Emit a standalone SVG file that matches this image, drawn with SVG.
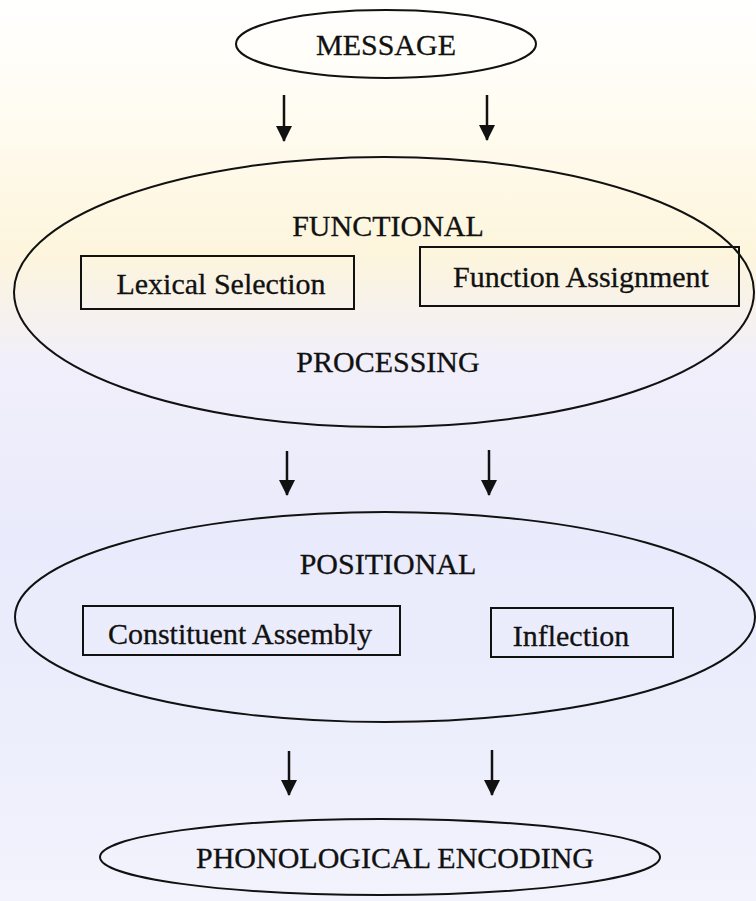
<svg xmlns="http://www.w3.org/2000/svg" width="756" height="901" viewBox="0 0 756 901">
<defs>
<linearGradient id="bg" x1="0" y1="0" x2="0" y2="1">
<stop offset="0" stop-color="#ffffff"/>
<stop offset="0.12" stop-color="#fffcf2"/>
<stop offset="0.28" stop-color="#fdf5dc"/>
<stop offset="0.40" stop-color="#f1effa"/>
<stop offset="0.60" stop-color="#e9eafb"/>
<stop offset="0.85" stop-color="#eeeffc"/>
<stop offset="1" stop-color="#f3f3fd"/>
</linearGradient>
<marker id="ah" markerUnits="userSpaceOnUse" markerWidth="16" markerHeight="16" viewBox="0 0 16 16" refX="15" refY="8" orient="auto">
<path d="M0,0 L16,8 L0,16 Z" fill="#111"/>
</marker>
<style>
.shape{fill:none;stroke:#111;stroke-width:2}
.box{fill:none;stroke:#111;stroke-width:2}
.t{font-family:"Liberation Serif","Times New Roman",serif;font-size:30px;fill:#111;text-anchor:middle;stroke:#111;stroke-width:0.3}
.arr{stroke:#111;stroke-width:2.5;fill:none}
</style>
</defs>
<rect x="0" y="0" width="756" height="901" fill="url(#bg)"/>
<g id="message">
<ellipse class="shape" cx="386" cy="44" rx="150" ry="34"/>
<text class="t" x="386" y="55">MESSAGE</text>
</g>
<g id="functional-processing">
<ellipse class="shape" cx="384" cy="292" rx="370" ry="135"/>
<text class="t" x="388" y="236">FUNCTIONAL</text>
<text class="t" x="388" y="372">PROCESSING</text>
</g>
<g id="lexical-selection">
<rect class="box" x="81" y="256" width="273" height="53"/>
<text class="t" x="221" y="294">Lexical Selection</text>
</g>
<g id="function-assignment">
<rect class="box" x="420" y="247" width="319" height="59"/>
<text class="t" x="581" y="287">Function Assignment</text>
</g>
<g id="positional">
<ellipse class="shape" cx="385" cy="617" rx="370" ry="105"/>
<text class="t" x="388" y="574">POSITIONAL</text>
</g>
<g id="constituent-assembly">
<rect class="box" x="83" y="606" width="317" height="49"/>
<text class="t" x="240" y="644">Constituent Assembly</text>
</g>
<g id="inflection">
<rect class="box" x="491" y="608" width="182" height="49"/>
<text class="t" x="571" y="646">Inflection</text>
</g>
<g id="phonological-encoding">
<ellipse class="shape" cx="380" cy="857" rx="280" ry="38"/>
<text class="t" x="395" y="868">PHONOLOGICAL ENCODING</text>
</g>
<g id="connectors">
<line class="arr" x1="284" y1="95" x2="284" y2="141" marker-end="url(#ah)"/>
<line class="arr" x1="487" y1="95" x2="487" y2="140" marker-end="url(#ah)"/>
<line class="arr" x1="287" y1="451" x2="287" y2="495" marker-end="url(#ah)"/>
<line class="arr" x1="489" y1="450" x2="489" y2="495" marker-end="url(#ah)"/>
<line class="arr" x1="289" y1="751" x2="289" y2="795" marker-end="url(#ah)"/>
<line class="arr" x1="492" y1="750" x2="492" y2="795" marker-end="url(#ah)"/>
</g>
</svg>
